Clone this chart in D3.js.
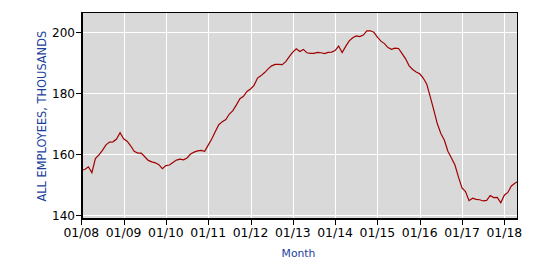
<!DOCTYPE html>
<html>
<head>
<meta charset="utf-8">
<script src="https://cdn.jsdelivr.net/npm/d3@7"></script>
<style>
  html, body { margin: 0; padding: 0; background: #fff; }
  svg { display: block; font-family: "DejaVu Sans", Verdana, sans-serif; }
</style>
</head>
<body>
<div id="chart"></div>
<script>
// --- data: monthly, 01/2008 .. 05/2018 (thousands) ---------------------------
const START_YEAR = 2008;
const employees = [
  154.8, 155.0, 155.9, 154.0, 158.6, 159.8, 161.3, 163.1, 164.0, 164.1, 165.0, 167.1, // 2008
  165.1, 164.3, 162.8, 161.0, 160.4, 160.4, 159.2, 158.0, 157.5, 157.2, 156.6, 155.3, // 2009
  156.3, 156.5, 157.3, 158.1, 158.4, 158.2, 158.8, 160.1, 160.7, 161.1, 161.3, 161.0, // 2010
  163.0, 165.0, 167.4, 169.7, 170.7, 171.4, 173.2, 174.3, 176.2, 178.2, 179.0, 180.6, // 2011
  181.4, 182.6, 185.0, 185.8, 186.8, 188.0, 189.0, 189.5, 189.5, 189.4, 190.4, 192.0, // 2012
  193.5, 194.6, 193.7, 194.4, 193.3, 193.1, 193.1, 193.4, 193.3, 193.0, 193.4, 193.5, // 2013
  194.0, 195.5, 193.4, 195.4, 197.2, 198.2, 198.8, 198.6, 199.1, 200.5, 200.5, 200.0, // 2014
  198.4, 197.1, 196.3, 195.0, 194.4, 194.8, 194.7, 193.0, 191.3, 189.0, 187.8, 187.0, // 2015
  186.4, 185.0, 183.0, 178.8, 174.5, 170.0, 166.8, 164.6, 161.0, 158.8, 156.5, 152.5, // 2016
  149.0, 147.8, 144.8, 145.6, 145.2, 145.1, 144.7, 144.9, 146.5, 145.8, 145.9, 144.1, // 2017
  146.6, 147.5, 149.6, 150.5, 151.2                                                   // 2018
];
const xTickMonths = d3.range(0, 121, 12);
const xTickLabels = xTickMonths.map(m => '01/' + String((START_YEAR + m / 12) % 100).padStart(2, '0'));
const yTicks = [140, 160, 180, 200];

// --- layout -----------------------------------------------------------------
const W = 544, H = 266;
const PLOT = { left: 81, right: 518, top: 12, bottom: 220 };

const x = d3.scaleLinear().domain([0, 123.6]).range([81.3, 517]);
const y = d3.scaleLinear().domain([140, 200]).range([215.3, 32.3]);

const svg = d3.select('#chart').append('svg')
  .attr('width', W).attr('height', H)
  .attr('viewBox', `0 0 ${W} ${H}`);

svg.append('defs').append('clipPath').attr('id', 'clip')
  .append('rect')
    .attr('x', PLOT.left).attr('y', PLOT.top)
    .attr('width', PLOT.right - PLOT.left).attr('height', PLOT.bottom - PLOT.top);

svg.append('rect')
  .attr('x', PLOT.left).attr('y', PLOT.top)
  .attr('width', PLOT.right - PLOT.left).attr('height', PLOT.bottom - PLOT.top)
  .attr('fill', '#d9d9d9');

// --- grid -------------------------------------------------------------------
const grid = svg.append('g').attr('stroke', '#fff').attr('stroke-width', 1).attr('shape-rendering', 'crispEdges');
grid.selectAll('line.h').data(yTicks).join('line')
  .attr('x1', PLOT.left).attr('x2', PLOT.right)
  .attr('y1', d => Math.round(y(d)) + 0.5).attr('y2', d => Math.round(y(d)) + 0.5);
grid.selectAll('line.v').data(xTickMonths).join('line')
  .attr('y1', PLOT.top).attr('y2', PLOT.bottom)
  .attr('x1', d => Math.round(x(d)) + 0.5).attr('x2', d => Math.round(x(d)) + 0.5);

// --- series -----------------------------------------------------------------
const line = d3.line().x((d, i) => x(i)).y(d => y(d));
svg.append('path')
  .datum(employees)
  .attr('clip-path', 'url(#clip)')
  .attr('fill', 'none')
  .attr('stroke', '#a00000')
  .attr('stroke-width', 1.2)
  .attr('d', line);

// --- frame ------------------------------------------------------------------
const frame = svg.append('g').attr('fill', '#000');
frame.append('rect').attr('x', PLOT.left).attr('y', PLOT.top).attr('width', PLOT.right - PLOT.left).attr('height', 1);
frame.append('rect').attr('x', PLOT.right - 1).attr('y', PLOT.top).attr('width', 1).attr('height', PLOT.bottom - PLOT.top);
frame.append('rect').attr('x', PLOT.left).attr('y', PLOT.top).attr('width', 2).attr('height', PLOT.bottom - PLOT.top);
frame.append('rect').attr('x', PLOT.left).attr('y', PLOT.bottom - 2).attr('width', PLOT.right - PLOT.left).attr('height', 2);

// --- axes -------------------------------------------------------------------
const yAxis = svg.append('g');
yAxis.selectAll('line').data(yTicks).join('line')
  .attr('x1', 76).attr('x2', PLOT.left)
  .attr('y1', d => Math.round(y(d)) + 0.5).attr('y2', d => Math.round(y(d)) + 0.5)
  .attr('stroke', '#000').attr('shape-rendering', 'crispEdges');
yAxis.selectAll('text').data(yTicks).join('text')
  .attr('x', 75).attr('y', d => y(d) + 4.3)
  .attr('text-anchor', 'end')
  .attr('font-size', 12)
  .attr('fill', '#000')
  .text(d => d);

const xAxis = svg.append('g');
xAxis.selectAll('line').data(xTickMonths).join('line')
  .attr('x1', d => Math.round(x(d)) + 0.5).attr('x2', d => Math.round(x(d)) + 0.5)
  .attr('y1', PLOT.bottom).attr('y2', 225)
  .attr('stroke', '#000').attr('shape-rendering', 'crispEdges');
xAxis.selectAll('text').data(xTickMonths).join('text')
  .attr('x', d => x(d)).attr('y', 236.8)
  .attr('text-anchor', 'middle')
  .attr('font-size', 12.4)
  .attr('fill', '#000')
  .text((d, i) => xTickLabels[i]);

// --- titles -----------------------------------------------------------------
svg.append('text')
  .attr('x', 298.5).attr('y', 256.7)
  .attr('text-anchor', 'middle')
  .attr('font-size', 10.8)
  .attr('fill', '#1a3f9c')
  .text('Month');

svg.append('text')
  .attr('transform', 'translate(46.3,116.2) rotate(-90)')
  .attr('text-anchor', 'middle')
  .attr('font-size', 11.4)
  .attr('fill', '#1a3f9c')
  .text('ALL EMPLOYEES, THOUSANDS');
</script>
</body>
</html>
